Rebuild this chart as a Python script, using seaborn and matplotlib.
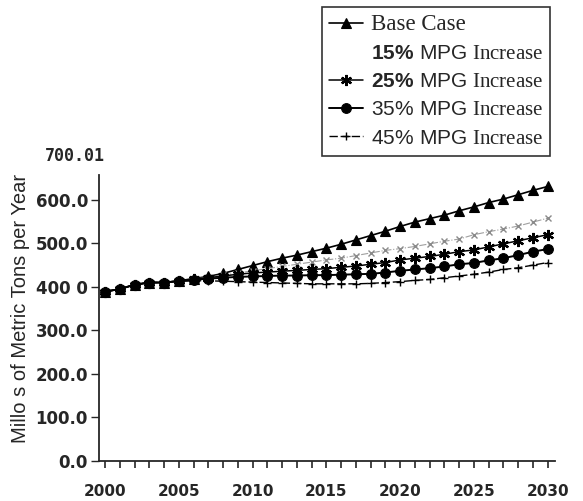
import numpy as np
import pandas as pd
import matplotlib
matplotlib.use("Agg")
import matplotlib.pyplot as plt
import matplotlib.transforms as mtransforms
import seaborn as sns

years = list(range(2000, 2031))

base_case = [389, 395, 405, 410, 410, 414, 419, 424, 431, 440,
             449, 458, 466, 473, 481, 489, 498, 508, 518, 528,
             539, 549, 557, 565, 575, 584, 594, 602, 612, 622, 631]
mpg_15 = [389, 395, 405, 410, 410, 414, 418, 422, 427, 432,
          437, 442, 447, 452, 457, 462, 466, 472, 478, 484,
          488, 493, 499, 505, 510, 520, 527, 533, 540, 549, 558]
mpg_25 = [389, 395, 405, 410, 410, 414, 418, 421, 425, 429,
          432, 434, 436, 438, 440, 442, 445, 448, 452, 456,
          462, 466, 470, 475, 481, 485, 492, 499, 506, 513, 520]
mpg_35 = [389, 395, 405, 410, 410, 413, 416, 419, 421, 423,
          424, 425, 426, 426, 427, 427, 428, 429, 430, 433,
          437, 440, 443, 447, 452, 455, 461, 466, 473, 481, 487]
mpg_45 = [389, 395, 405, 410, 410, 413, 414, 414, 413, 412,
          411, 410, 409, 408, 407, 407, 407, 407, 408, 410,
          412, 415, 417, 421, 425, 429, 434, 440, 444, 450, 456]

series_labels = [
    "Base Case",
    r"$\mathbf{15\%}\ \mathsf{MPG}$ Increase",
    r"$\mathbf{25\%}\ \mathsf{MPG}$ Increase",
    r"$\mathsf{35\%\ MPG}$ Increase",
    r"$\mathsf{45\%\ MPG}$ Increase",
]
y_ticks = [0, 100, 200, 300, 400, 500, 600]
y_tick_labels = ["0.0", "100.0", "200.0", "300.0", "400 0", "500.0", "600.0"]
x_tick_labels = [2000, 2005, 2010, 2015, 2020, 2025, 2030]

sns.set_style("ticks")
plt.rcParams["font.family"] = ["DejaVu Sans"]
plt.rcParams["mathtext.fontset"] = "custom"
plt.rcParams["mathtext.rm"] = "Liberation Serif"
plt.rcParams["mathtext.sf"] = "Liberation Sans"
plt.rcParams["mathtext.bf"] = "Liberation Sans:bold"

fig = plt.figure(figsize=(5.83, 5.01), dpi=100)
ax = fig.add_axes([99 / 583, 1 - 460.7 / 501, 456 / 583, 304.2 / 501])

styles = [
    dict(marker="^", markersize=6.5, linestyle="-", linewidth=1.2, color="black",
         markeredgecolor="black", markeredgewidth=0.8),
    dict(marker="x", markersize=5, linestyle="-.", linewidth=0.8, color="#a0a0a0",
         markeredgecolor="#8a8a8a", markeredgewidth=1.0),
    dict(marker=(6, 2, 0), markersize=8, linestyle="-", linewidth=1.1, color="black",
         markeredgecolor="black", markeredgewidth=1.6),
    dict(marker="o", markersize=7, linestyle="-", linewidth=1.4, color="black",
         markeredgecolor="black", markeredgewidth=0.8),
    dict(marker="+", markersize=6, linestyle=(0, (6, 2)), linewidth=1.0, color="black",
         markeredgecolor="black", markeredgewidth=1.0),
]
all_series = [base_case, mpg_15, mpg_25, mpg_35, mpg_45]

for vals, lab, st in zip(all_series, series_labels, styles):
    df = pd.DataFrame({"year": years, "value": vals})
    sns.lineplot(data=df, x="year", y="value", ax=ax, label=lab, **st)

ax.set_xlim(1999.59, 2030.5)
ax.set_ylim(0, 700)
ax.set_xticks(years)
ax.set_xticklabels([str(y) if y in x_tick_labels else "" for y in years],
                   fontsize=11, fontweight="bold")
shift = mtransforms.ScaledTranslation(3 / 100, 0, fig.dpi_scale_trans)
for t in ax.get_xticklabels():
    t.set_transform(t.get_transform() + shift)
ax.set_yticks(y_ticks)
ax.set_yticklabels(y_tick_labels, fontsize=12, fontweight="bold")
ax.tick_params(axis="x", direction="out", length=5, width=1.2, pad=12)
ax.tick_params(axis="y", direction="out", length=6, width=1.0, pad=2)
ax.set_xlabel("")
ax.set_ylabel("Millo s of Metric Tons per Year", fontsize=14.5,
              family="Liberation Sans", labelpad=4)

for side in ("top", "right"):
    ax.spines[side].set_visible(False)
ax.spines["left"].set_bounds(0, 657)
ax.spines["left"].set_linewidth(1.3)
ax.spines["bottom"].set_linewidth(1.3)

fig.text(45 / 583, 1 - 155.7 / 501, "700.01", family="DejaVu Sans Mono",
         fontweight="bold", fontsize=12, va="center", ha="left")

handles, labels = ax.get_legend_handles_labels()
ax.get_legend().remove()
leg = fig.legend(handles, labels, loc="upper left",
                 bbox_to_anchor=(322 / 583, 1 - 7 / 501),
                 prop={"family": "Liberation Serif", "size": 15},
                 frameon=True, fancybox=False, edgecolor="black",
                 borderaxespad=0, handlelength=1.6, handletextpad=0.4,
                 labelspacing=0.42, borderpad=0.35)
leg.get_frame().set_linewidth(1.2)
leg.get_texts()[0].set_fontsize(16.5)
legend_lines = leg.get_lines()
legend_lines[1].set_alpha(0.0)

fig.savefig("out.png", dpi=100, facecolor="white")
